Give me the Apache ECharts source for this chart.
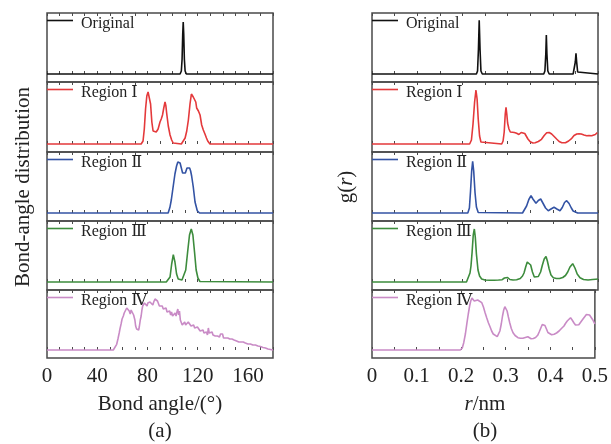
<!DOCTYPE html>
<html>
<head>
<meta charset="utf-8">
<script src="https://cdn.jsdelivr.net/npm/echarts@6/dist/echarts.min.js"></script>
<style>
html,body{margin:0;padding:0;background:#fff;}
#chart{width:611px;height:444px;}
</style>
</head>
<body>
<div id="chart"></div>
<script>
// ---------------- DATA ----------------
const seriesNames = ['Original', 'Region \u2160', 'Region \u2161', 'Region \u2162', 'Region \u2163'];
const angleTicks = [0, 40, 80, 120, 160];
const rTicks = [0, 0.1, 0.2, 0.3, 0.4, 0.5];

// (a) bond-angle distribution: [angle (deg), intensity]
const angleOriginal = [[0,0],[106,0],[107,3],[107.6,15],[108.1,40],[108.5,52],[108.9,40],[109.4,15],[110,3],[111,0],[180,0]];
const angleRegion1 = [[0,0],[75,0],[76.5,3],[77.5,15],[78.5,35],[79.5,48],[80.5,52],[81.5,51],[82.5,40],[83.5,22],[84.5,13],[85.5,11],[87,12],[88.5,15],[90,22],[91,25],[92,29],[93,36],[94,42],[94.7,38],[95.3,31],[96.6,18],[98,9],[99.3,4],[100.5,1],[102,0],[107,0],[108.5,2],[110,6],[111.3,13],[112.6,24],[113.9,40],[115,50],[115.8,52],[116.5,47],[117.2,49],[117.9,46],[118.5,42],[119.2,36],[120,38],[120.6,33],[121.9,29],[123.2,19],[124.5,14],[125.8,10],[127,6],[128,3],[129.8,0],[180,0]];
const angleRegion2 = [[0,0],[96.5,0],[97.9,5.7],[99,13],[100,22],[101,31],[101.9,39],[103.2,47],[104.2,51],[105.1,52],[106,50],[107,45],[108,40],[109.1,38],[110.2,40],[111.5,45],[112.6,46.3],[113.6,45],[114.4,42],[115.2,37],[116.5,26],[117.9,11],[119.7,2.3],[121.5,0],[180,0]];
const angleRegion3 = [[0,0],[95,0],[96.5,1],[98,5],[99.3,18],[100.6,27.3],[101.9,20],[103.2,8],[104.5,3],[106,2],[107.5,2],[109,4],[110.5,12],[112,30],[113.5,47],[114.9,53],[116.2,47],[117.5,30],[118.8,12],[120.2,4],[121.8,0.5],[123,0],[180,0]];
const angleRegion4 = [[0,0],[52.8,0],[54,1.5],[55.5,5.7],[56.5,11],[57.5,17],[58.1,21],[59,26],[59.8,31],[60.8,34],[61.5,37],[62,35],[62.9,39],[63.5,42],[64.2,41],[64.8,42],[65.5,39],[66.3,36],[67,40],[67.7,38],[68.2,39],[69,35],[70,30],[70.6,24],[71.4,21],[72.2,22],[73,20],[73.5,23],[74.3,30],[75,34],[75.6,40],[76.2,44],[77,42],[77.6,47],[78.3,46],[79,48],[79.7,44],[80.3,47],[81,45],[82,48],[82.8,46],[83.5,49],[84.3,45],[85,48],[86,51],[86.7,49],[87.4,53],[88,49],[88.8,47],[89.5,44],[90.2,46],[91,42],[91.8,44],[92.6,41],[93.3,43],[94,39],[94.8,42],[95.6,38],[96.3,40],[97,37],[97.7,39],[98.5,35],[99.2,38],[100,34],[100.7,36],[101.3,33],[102,37],[102.8,34],[103.5,38],[104.2,41],[104.9,35],[105.5,39],[106.2,30],[107,28],[107.7,25],[108.4,27],[109,24],[109.7,28],[110.4,25],[111,27],[111.8,24],[112.5,28],[113.2,26],[114,27],[114.7,24],[115.4,26],[116,23],[116.8,25],[117.6,22],[118.3,24],[119,21],[119.8,23],[120.5,21],[121.2,22],[122,19],[122.8,21],[123.5,18],[124.3,20],[125,17],[125.7,19],[126.4,16],[127,18],[127.8,15],[128.5,22],[129.2,17],[130,19],[130.7,16],[131.5,18],[132.2,15],[133,17],[134,14],[135,16],[135.8,14],[136.6,15],[137.4,13],[138.2,16],[139,14],[139.8,16],[140.6,12],[141.4,14],[142.2,12],[143,13],[144,12],[144.8,13],[145.6,11],[146.5,13],[147.3,11],[148,12],[149,10],[150,11.5],[151,9],[152,11],[152.8,8],[153.6,10],[154.5,8],[155.3,10],[156.3,8],[157.2,9],[158,7],[159,9],[160,6],[161,8],[162,6],[163,7],[164,5],[165,7],[166,5],[167,5.7],[168,4],[169,5],[170,3.5],[171,4],[172,2.5],[173,3],[174,2],[175,2],[176,1],[177,1.3],[178,0.5],[179,0.7],[180,0]];

// (b) radial distribution function g(r): [r (nm), intensity]
const rOriginal = [[0,0],[0.231,0],[0.2335,3],[0.2355,25],[0.2372,53.7],[0.239,25],[0.241,3],[0.244,0],[0.380,0],[0.3825,3],[0.3845,20],[0.3857,39],[0.387,20],[0.389,3],[0.392,0],[0.445,0],[0.4475,2],[0.4498,12],[0.4513,20.7],[0.4528,12],[0.455,2],[0.458,0],[0.5,0]];
const rRegion1 = [[0,0],[0.216,0],[0.220,4],[0.2235,20],[0.227,42],[0.230,54],[0.2325,45],[0.235,25],[0.238,8],[0.241,2],[0.245,0],[0.287,0],[0.290,3],[0.2925,12],[0.2948,30],[0.2965,36.7],[0.2982,30],[0.300,21],[0.303,15],[0.306,12],[0.310,11],[0.315,11.5],[0.320,10.7],[0.325,9.5],[0.330,11.5],[0.334,12.7],[0.338,10.5],[0.341,8.7],[0.345,5],[0.350,2.3],[0.356,1],[0.361,1.3],[0.368,2.5],[0.375,4.7],[0.381,8.5],[0.3865,11.3],[0.392,11.5],[0.3975,10],[0.403,7.5],[0.409,4.7],[0.414,2.5],[0.420,1.3],[0.428,1.2],[0.435,3],[0.442,5.7],[0.447,8.5],[0.453,10],[0.458,10.3],[0.463,10],[0.469,9],[0.475,8.3],[0.480,8.5],[0.486,8.2],[0.490,9.2],[0.494,9.5],[0.4985,11.3],[0.5,11.5]];
const rRegion2 = [[0,0],[0.212,0],[0.2155,5],[0.218,22],[0.2205,42],[0.2227,51.6],[0.225,42],[0.228,20],[0.231,6],[0.235,0.5],[0.238,0],[0.333,0],[0.337,2],[0.342,7],[0.347,13.5],[0.3518,17.3],[0.356,14],[0.3628,9.7],[0.368,12.5],[0.3732,14],[0.378,10],[0.384,5],[0.390,2.3],[0.396,4],[0.4027,5.7],[0.409,4],[0.4159,2.3],[0.421,5.5],[0.426,10.5],[0.4307,12.3],[0.436,9.5],[0.441,5],[0.445,2],[0.449,0.7],[0.455,0],[0.5,0]];
const rRegion3 = [[0,0],[0.209,0],[0.213,2],[0.2168,9],[0.219,16],[0.2215,30],[0.224,47],[0.2264,53],[0.2285,45],[0.231,28],[0.2345,12],[0.238,6],[0.2426,3],[0.25,2],[0.26,1.7],[0.27,1.7],[0.28,2],[0.288,2.3],[0.293,4],[0.2965,5.7],[0.300,4.5],[0.305,2.5],[0.312,2],[0.320,2.3],[0.328,3.5],[0.333,6],[0.3363,9],[0.340,15],[0.3435,20],[0.3473,21.6],[0.351,17],[0.355,10],[0.3591,5],[0.363,4.5],[0.368,5.5],[0.373,10],[0.377,17],[0.381,23],[0.385,25.6],[0.388,21],[0.392,13],[0.396,7],[0.4012,4.3],[0.408,3.5],[0.415,3.5],[0.422,4.5],[0.428,6.5],[0.433,10],[0.438,15],[0.444,18.3],[0.449,14],[0.454,8],[0.4602,4.3],[0.468,2.5],[0.478,2],[0.488,2.5],[0.495,2.8],[0.5,3]];
const rRegion4 = [[0,0],[0.198,0],[0.2025,2],[0.2058,7.3],[0.2095,16],[0.2131,27.3],[0.216,36],[0.219,44],[0.2215,49],[0.2242,52],[0.227,50],[0.2294,49],[0.233,50.5],[0.237,50],[0.2411,50.7],[0.2463,47.3],[0.25,43],[0.2537,37.3],[0.2575,32],[0.2611,27.3],[0.265,23],[0.2684,19],[0.272,16],[0.2758,14],[0.281,13.3],[0.284,15],[0.2869,19],[0.29,26],[0.2928,34],[0.2955,40],[0.298,43.3],[0.3005,42],[0.3031,39],[0.306,33],[0.309,27.3],[0.3125,21.5],[0.3164,17.3],[0.321,14.5],[0.3274,12.3],[0.333,11.8],[0.3385,11.7],[0.344,12.5],[0.3496,13.3],[0.353,12.5],[0.3569,11.3],[0.362,11.5],[0.367,12.5],[0.3717,14.7],[0.3755,18.5],[0.379,22.3],[0.382,25.5],[0.385,26.7],[0.388,24.5],[0.3916,20.7],[0.3946,17.5],[0.3976,15.7],[0.403,15.3],[0.4086,15.7],[0.414,17],[0.4197,19],[0.425,21.5],[0.4307,24],[0.434,26.5],[0.438,29],[0.4415,31],[0.4454,32.3],[0.449,30],[0.4528,27.3],[0.4565,25],[0.4602,24],[0.464,25.3],[0.4675,27.3],[0.4725,30.5],[0.4772,33.3],[0.481,35.5],[0.4845,36.3],[0.488,35],[0.4919,33.3],[0.4955,30],[0.4993,26.7],[0.5,26]];

const angleData = [angleOriginal, angleRegion1, angleRegion2, angleRegion3, angleRegion4];
const rData = [rOriginal, rRegion1, rRegion2, rRegion3, rRegion4];

// ---------------- STYLE / LAYOUT ----------------
const colors = ['#111111', '#e4393b', '#3353a4', '#3d8c3d', '#c98bc6'];
const FONT = "'Liberation Serif','Times New Roman','DejaVu Serif','Noto Sans CJK SC',serif";
const rowTop = [13, 82, 152, 221, 290];
const rowBottom = [82, 152, 221, 290, 358];
const panelLeft = [47, 372];
const panelWidth = 226;
const baseOffset = 8;
const borderColor = '#4a4a4a';

const grids = [], xAxes = [], yAxes = [], series = [], legendMarks = [];
const panels = [
  {data: angleData, min: 0, max: 180, interval: 10, ticks: angleTicks},
  {data: rData, min: 0, max: 0.5, interval: 0.05, ticks: rTicks}
];

function labelFmt(ticks) {
  return function (v) {
    for (const t of ticks) if (Math.abs(v - t) < 1e-6) return String(t);
    return '';
  };
}

panels.forEach((p, pi) => {
  for (let k = 0; k < 5; k++) {
    const gi = grids.length;
    const h = rowBottom[k] - rowTop[k];
    grids.push({
      left: panelLeft[pi], top: rowTop[k], width: panelWidth, height: h,
      show: true, borderColor: borderColor, borderWidth: 1.5, backgroundColor: 'transparent'
    });
    const isBottom = k === 4;
    xAxes.push({
      type: 'value', gridIndex: gi, position: 'bottom', min: p.min, max: p.max, interval: p.interval,
      axisLine: {show: false},
      axisTick: {show: true, inside: true, length: 3, lineStyle: {color: borderColor, width: 1}},
      axisLabel: {show: isBottom, formatter: labelFmt(p.ticks), fontFamily: FONT, fontSize: 21, color: '#222', margin: 8, showMaxLabel: true, showMinLabel: true},
      splitLine: {show: false}
    });
    xAxes.push({
      type: 'value', gridIndex: gi, position: 'top', min: p.min, max: p.max, interval: p.interval,
      axisLine: {show: false},
      axisTick: {show: true, inside: true, length: 3, lineStyle: {color: borderColor, width: 1}},
      axisLabel: {show: false}, splitLine: {show: false}
    });
    yAxes.push({
      type: 'value', gridIndex: gi, min: -baseOffset, max: h - baseOffset,
      show: false, splitLine: {show: false}
    });
    series.push({
      type: 'line', name: seriesNames[k], xAxisIndex: xAxes.length - 2, yAxisIndex: gi,
      data: p.data[k], showSymbol: false, symbol: 'none', smooth: false, animation: false,
      lineStyle: {color: colors[k], width: 1.6}, itemStyle: {color: colors[k]}
    });
    // legend key: short line + label inside top-left of each subplot
    legendMarks.push({
      type: 'line', silent: true,
      shape: {x1: panelLeft[pi], y1: rowTop[k] + 7.5, x2: panelLeft[pi] + 26, y2: rowTop[k] + 7.5},
      style: {stroke: colors[k], lineWidth: 1.6}
    });
    legendMarks.push({
      type: 'text', silent: true, x: panelLeft[pi] + 34, y: rowTop[k] + 10.5,
      style: {text: seriesNames[k], fontFamily: FONT, fontSize: 16, fill: '#222', align: 'left', verticalAlign: 'middle'}
    });
  }
});

const chart = echarts.init(document.getElementById('chart'), null, {renderer: 'canvas'});
chart.setOption({
  backgroundColor: '#ffffff',
  animation: false,
  grid: grids,
  xAxis: xAxes,
  yAxis: yAxes,
  series: series,
  graphic: legendMarks.concat([
    {type: 'text', x: 23, y: 187, rotation: Math.PI / 2,
     style: {text: 'Bond-angle distribution', fontFamily: FONT, fontSize: 21, fill: '#222', align: 'center', verticalAlign: 'middle'}},
    {type: 'text', x: 346, y: 187, rotation: Math.PI / 2,
     style: {text: '{n|g(}{i|r}{n|)}', fill: '#222', align: 'center', verticalAlign: 'middle',
       rich: {n: {fontFamily: FONT, fontSize: 21, fill: '#222'}, i: {fontFamily: FONT, fontSize: 21, fontStyle: 'italic', fill: '#222'}}}},
    {type: 'text', x: 160, y: 404,
     style: {text: 'Bond angle/(\u00B0)', fontFamily: FONT, fontSize: 21, fill: '#222', align: 'center', verticalAlign: 'middle'}},
    {type: 'text', x: 485, y: 404,
     style: {text: '{i|r}{n|/nm}', fill: '#222', align: 'center', verticalAlign: 'middle',
       rich: {n: {fontFamily: FONT, fontSize: 21, fill: '#222'}, i: {fontFamily: FONT, fontSize: 21, fontStyle: 'italic', fill: '#222'}}}},
    {type: 'text', x: 160, y: 431,
     style: {text: '(a)', fontFamily: FONT, fontSize: 21, fill: '#222', align: 'center', verticalAlign: 'middle'}},
    {type: 'text', x: 485, y: 431,
     style: {text: '(b)', fontFamily: FONT, fontSize: 21, fill: '#222', align: 'center', verticalAlign: 'middle'}}
  ])
});
</script>
</body>
</html>
